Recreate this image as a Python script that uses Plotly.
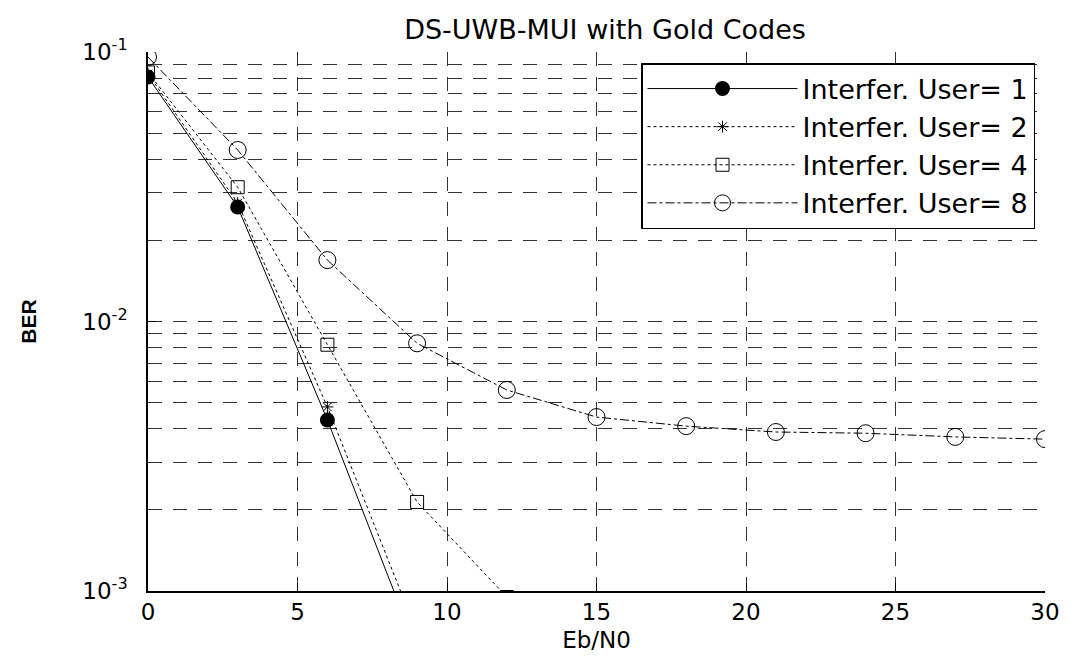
import plotly.graph_objects as go

# ---- data ----
ebn0 = [0, 3, 6, 9, 12, 15, 18, 21, 24, 27, 30]
ber_user1 = [0.0808, 0.0266, 0.00431, 0.00060]
ber_user2 = [0.0830, 0.0275, 0.00482, 0.00070]
ber_user4 = [0.0840, 0.0315, 0.00820, 0.00214, 0.00095]
ber_user8 = [0.0958, 0.0433, 0.0169, 0.0083, 0.00557, 0.00442,
             0.00409, 0.00389, 0.00385, 0.00373, 0.00366]
series_names = ["Interfer. User= 1", "Interfer. User= 2",
                "Interfer. User= 4", "Interfer. User= 8"]

x_ticks = [0, 5, 10, 15, 20, 25, 30]
y_decades = [1e-3, 1e-2, 1e-1]
y_ticktext = ["10<sup>-3</sup>", "10<sup>-2</sup>", "10<sup>-1</sup>"]
y_minor = [m * d for d in [1e-3, 1e-2] for m in range(2, 10)]

FONT = "Liberation Sans, Arial, sans-serif"
WIDE = "DejaVu Sans, Verdana, sans-serif"
GRID = "#333"
GRIDDASH = "14px,11px"

fig = go.Figure()
fig.add_trace(go.Scatter(
    x=ebn0[:len(ber_user1)], y=ber_user1, name=series_names[0],
    mode="lines+markers",
    line=dict(color="black", width=1, dash="solid"),
    marker=dict(symbol="circle", size=15, color="black")))
fig.add_trace(go.Scatter(
    x=ebn0[:len(ber_user2)], y=ber_user2, name=series_names[1],
    mode="lines+markers",
    line=dict(color="black", width=1, dash="dot"),
    marker=dict(symbol="asterisk-open", size=10, color="black",
                line=dict(width=1, color="black"))))
fig.add_trace(go.Scatter(
    x=ebn0[:len(ber_user4)], y=ber_user4, name=series_names[2],
    mode="lines+markers",
    line=dict(color="black", width=1, dash="dot"),
    marker=dict(symbol="square-open", size=13, color="black",
                line=dict(width=1, color="black"))))
fig.add_trace(go.Scatter(
    x=ebn0[:len(ber_user8)], y=ber_user8, name=series_names[3],
    mode="lines+markers",
    line=dict(color="black", width=1, dash="dashdot"),
    marker=dict(symbol="circle-open", size=17, color="black",
                line=dict(width=1, color="black"))))

fig.update_layout(
    width=1083, height=653,
    paper_bgcolor="white", plot_bgcolor="white",
    margin=dict(l=140, r=46, t=44, b=70, autoexpand=False),
    font=dict(family=FONT, color="black", size=22),
    title=dict(text="DS-UWB-MUI with Gold Codes", x=597 / 1083,
               xanchor="center", y=1 - 22 / 653, yanchor="middle",
               font=dict(size=27, family=WIDE)),
    legend=dict(x=1.0 - 10 / 897, xanchor="right", y=1 - 11 / 539,
                yanchor="top",
                bgcolor="white", bordercolor="black", borderwidth=1.5,
                font=dict(size=27, family=WIDE), itemwidth=150,
                tracegroupgap=0),
    showlegend=True,
)
fig.update_xaxes(
    range=[0, 30], tickvals=x_ticks, ticktext=[str(v) for v in x_ticks],
    showline=True, linecolor="black", linewidth=1.5,
    ticks="inside", ticklen=8, tickcolor="black",
    showgrid=True, gridcolor=GRID, griddash=GRIDDASH, gridwidth=1,
    zeroline=False, tickfont=dict(size=23, family=WIDE), automargin=False,
    title=dict(text="Eb/N0", font=dict(size=23, family=WIDE), standoff=8),
)
fig.update_yaxes(
    type="log", range=[-3, -1], tickvals=y_decades, ticktext=y_ticktext,
    showline=True, linecolor="black", linewidth=1.5,
    ticks="inside", ticklen=8, tickcolor="black",
    showgrid=True, gridcolor=GRID, griddash=GRIDDASH, gridwidth=1,
    minor=dict(tickvals=y_minor, showgrid=True, gridcolor=GRID,
               griddash=GRIDDASH, gridwidth=1, ticks=""),
    zeroline=False, tickfont=dict(size=23, family=WIDE), automargin=False,
    ticklabelstandoff=14,
    title=dict(text="<b>BER</b>", font=dict(size=21, family=FONT), standoff=40),
)

fig.write_html("out.html")
